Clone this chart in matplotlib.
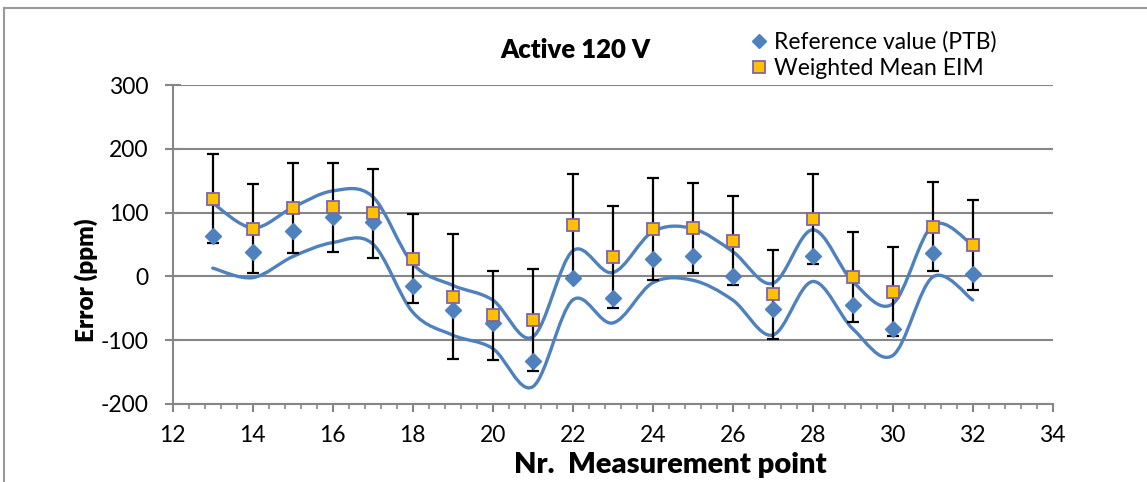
import matplotlib
matplotlib.use("Agg")
import matplotlib.pyplot as plt
from matplotlib.path import Path
from matplotlib.patches import PathPatch
from matplotlib.lines import Line2D
from matplotlib.ticker import MultipleLocator

# ---- data ----
points = [13, 14, 15, 16, 17, 18, 19, 20, 21, 22, 23, 24, 25, 26, 27, 28, 29, 30, 31, 32]
ref_ptb = [63, 38, 71, 93, 86, -15, -53, -73, -132, -2, -34, 28, 32, 1, -51, 32, -45, -82, 37, 3]
wm_eim = [122, 75, 107, 108, 99, 28, -32, -61, -69, 81, 30, 74, 76, 56, -28, 90, -1, -24, 78, 49]
wm_err = [70, 70, 70, 70, 70, 70, 98, 70, 80, 80, 80, 80, 70, 70, 70, 70, 70, 70, 70, 70]
ref_upper = [115, 76, 108, 134, 125, 20, -14, -37, -95, 40, 6, 70, 75, 39, -11, 73, -8, -43, 80, 49]
ref_lower = [13, -2, 31, 53, 51, -56, -92, -113, -173, -37, -73, -10, -6, -37, -92, -8, -82, -124, -1, -37]
x_ticks = [12, 14, 16, 18, 20, 22, 24, 26, 28, 30, 32, 34]
y_ticks = [-200, -100, 0, 100, 200, 300]

BLUE = "#4F81BD"
GOLD = "#FFC000"
PURPLE = "#8064A2"
GRID = "#868686"

plt.rcParams['font.family'] = ['Lato', 'DejaVu Sans']
plt.rcParams['axes.unicode_minus'] = False

W, H = 1147, 482
fig = plt.figure(figsize=(W / 100, H / 100), dpi=100)
ax = fig.add_axes([172.7 / W, 1 - 404 / H, (1052.7 - 172.7) / W, (404 - 85) / H])


def smooth_path(xs, ys):
    """Excel-like smoothed line: cubic Bezier segments through the points."""
    n = len(xs)
    verts = [(xs[0], ys[0])]
    codes = [Path.MOVETO]
    for i in range(n - 1):
        x0, y0 = xs[i - 1] if i > 0 else xs[i], ys[i - 1] if i > 0 else ys[i]
        x1, y1 = xs[i], ys[i]
        x2, y2 = xs[i + 1], ys[i + 1]
        x3, y3 = (xs[i + 2], ys[i + 2]) if i + 2 < n else (x2, y2)
        c1 = (x1 + (x2 - x0) / 6.0, y1 + (y2 - y0) / 6.0)
        c2 = (x2 - (x3 - x1) / 6.0, y2 - (y3 - y1) / 6.0)
        verts += [c1, c2, (x2, y2)]
        codes += [Path.CURVE4] * 3
    return Path(verts, codes)


for series in (ref_upper, ref_lower):
    ax.add_patch(PathPatch(smooth_path(points, series), fill=False, edgecolor=BLUE,
                           linewidth=2.4, capstyle='round', joinstyle='round', zorder=2))

ax.errorbar(points, wm_eim, yerr=wm_err, fmt='none', ecolor='black', elinewidth=1.6,
            capsize=4.5, capthick=1.6, zorder=3)
ax.plot(points, ref_ptb, linestyle='none', marker='D', markersize=8.5, color=BLUE,
        markeredgecolor=BLUE, zorder=4)
ax.plot(points, wm_eim, linestyle='none', marker='s', markersize=8.5, markerfacecolor=GOLD,
        markeredgecolor=PURPLE, markeredgewidth=1.3, zorder=5)

ax.set_xlim(12, 34)
ax.set_ylim(-200, 300)
ax.set_xticks(x_ticks)
ax.xaxis.set_minor_locator(MultipleLocator(0.4))
ax.set_yticks(y_ticks)
ax.yaxis.grid(True, color=GRID, linewidth=1.5)
ax.set_axisbelow(True)
for s in ('top', 'right'):
    ax.spines[s].set_visible(False)
for s in ('left', 'bottom'):
    ax.spines[s].set_color(GRID)
    ax.spines[s].set_linewidth(1.5)
ax.tick_params(axis='x', which='major', direction='out', length=6, width=1.5, color=GRID,
               labelsize=16.5, pad=9)
ax.tick_params(axis='x', which='minor', direction='out', length=3.5, width=1.2, color=GRID)
ax.tick_params(axis='y', which='major', direction='inout', length=11, width=1.5, color=GRID,
               labelsize=16.5, pad=12)

fig.text(86 / W, 1 - 280 / H, "Error (ppm)", fontsize=17.5, fontweight='heavy',
         rotation=90, ha='center', va='center')
fig.text(670 / W, 1 - 465 / H, "Nr.  Measurement point", fontsize=21, fontweight='heavy',
         ha='center', va='center')
fig.text(575 / W, 1 - 50 / H, "Active 120 V", fontsize=18.5, fontweight='heavy',
         ha='center', va='center')

handles = [
    Line2D([], [], linestyle='none', marker='D', markersize=7, color=BLUE),
    Line2D([], [], linestyle='none', marker='s', markersize=8, markerfacecolor=GOLD,
           markeredgecolor=PURPLE, markeredgewidth=1.3),
]
fig.legend(handles, ["Reference value (PTB)", "Weighted Mean EIM"], loc='upper left',
           bbox_to_anchor=(738 / W, 1 - 20 / H), frameon=False, fontsize=16.5,
           handlelength=0.8, handletextpad=0.25, labelspacing=0.2, borderpad=0)

# chart-area border (left and top edges visible)
fig.add_artist(Line2D([3.5 / W, 3.5 / W], [0, 1 - 8 / H], color='#999999', linewidth=1.5,
                      transform=fig.transFigure))
fig.add_artist(Line2D([3.5 / W, 1], [1 - 8 / H, 1 - 8 / H], color='#999999', linewidth=1.5,
                      transform=fig.transFigure))

fig.savefig("out.png", dpi=100)
